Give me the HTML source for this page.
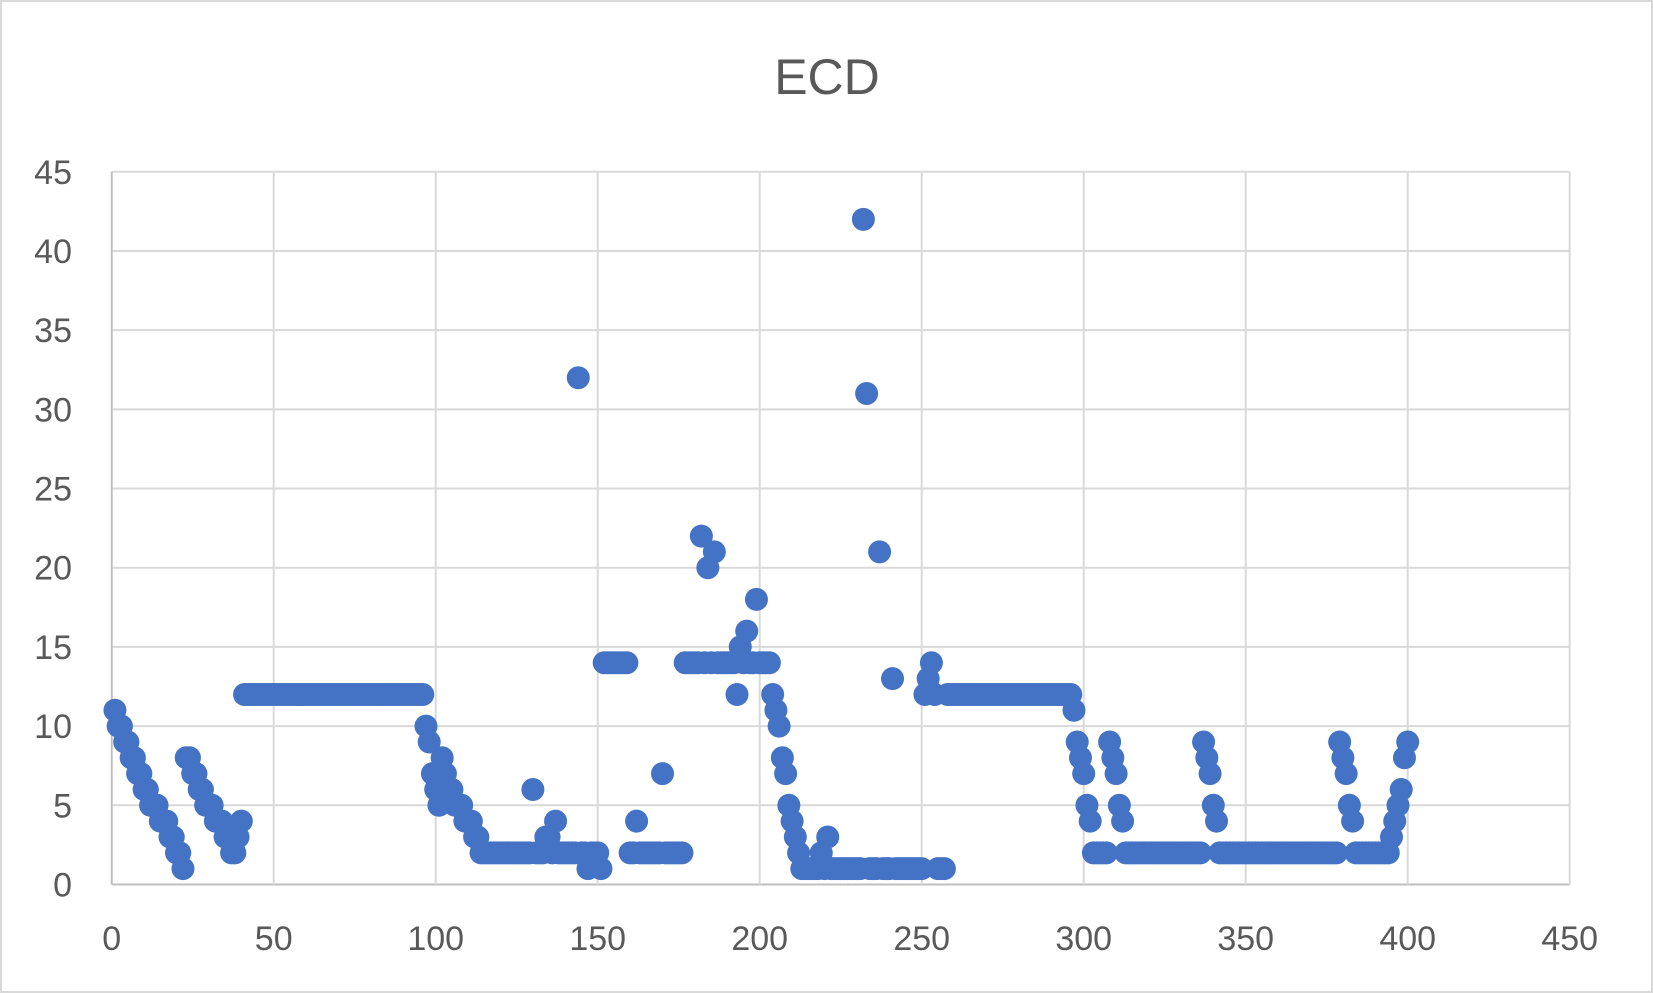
<!DOCTYPE html>
<html><head><meta charset="utf-8">
<style>
html,body{margin:0;padding:0;background:#fff;}
svg{display:block;font-family:"Liberation Sans",sans-serif;}
</style></head>
<body>
<svg id="chart" width="1653" height="993" viewBox="0 0 1653 993" xmlns="http://www.w3.org/2000/svg">
<rect x="1" y="1" width="1651" height="991" fill="#fff" stroke="#d9d9d9" stroke-width="2"/>
<text x="827" y="94" text-anchor="middle" font-size="50" fill="#595959">ECD</text>
<g id="grid"></g>
<g id="ticks"></g>
<g id="points"></g>
</svg>
<script>
const segValues = [11,10,10,9,9,8,8,7,7,6,6,5,5,5,4,4,4,3,3,2,2,1,
 8,8,7,7,6,6,5,5,5,4,4,4,3,3,2,2,3,4,
 12,
 10,9,7,6,5,8,7,6,6,5,5,5,4,4,4,3,3,2,
 2,6,2,3,3,2,4,2,32,2,1,2,1,14,2,4,2,7,2,
 14,22,14,20,14,21,14,12,15,14,16,14,14,18,14,12,11,10,8,7,5,4,3,2,
 1,2,1,3,1,42,31,1,21,1,13,1,12,13,14,12,1,12,
 11,9,8,7,5,4,2,9,8,7,5,4,2,9,8,7,5,4,2,9,8,7,5,4,2,3,4,5,6,8,9];
const segCounts = [1,1,1,1,1,1,1,1,1,1,1,1,1,1,1,1,1,1,1,1,1,1,
 1,1,1,1,1,1,1,1,1,1,1,1,1,1,1,1,1,1,
 56,
 1,1,1,1,1,1,1,1,1,1,1,1,1,1,1,1,1,1,
 15,1,3,1,1,1,1,6,1,2,1,3,1,8,2,1,7,1,6,
 5,1,1,1,1,1,6,1,1,1,1,1,1,1,4,1,1,1,1,1,1,1,1,1,
 6,1,1,1,10,1,1,3,1,3,1,9,1,1,1,1,3,39,
 1,1,1,1,1,1,5,1,1,1,1,1,24,1,1,1,1,1,37,1,1,1,1,1,11,1,1,1,1,1,1];
const yTicks = [0,5,10,15,20,25,30,35,40,45];
const xTicks = [0,50,100,150,200,250,300,350,400,450];

const NS = "http://www.w3.org/2000/svg";
const L = 111.7, R = 1569.7, T = 171.8, B = 884.5;
const xS = v => L + (v / 450) * (R - L);
const yS = v => B - (v / 45) * (B - T);

const grid = document.getElementById('grid');
const ticks = document.getElementById('ticks');
yTicks.forEach(t => {
  const ln = document.createElementNS(NS, 'line');
  
  
  ln.setAttribute('x1', L); ln.setAttribute('x2', R);
  ln.setAttribute('y1', yS(t)); ln.setAttribute('y2', yS(t));
  ln.setAttribute('stroke', t === 0 ? '#bfbfbf' : '#d9d9d9'); ln.setAttribute('stroke-width', '2');
  grid.appendChild(ln);
  const tx = document.createElementNS(NS, 'text');
  
  
  tx.setAttribute('x', 72); tx.setAttribute('y', yS(t) + 12);
  tx.setAttribute('text-anchor', 'end'); tx.setAttribute('font-size', '34'); tx.setAttribute('fill', '#595959');
  tx.textContent = t;
  ticks.appendChild(tx);
});
xTicks.forEach(t => {
  const ln = document.createElementNS(NS, 'line');
  
  
  ln.setAttribute('x1', xS(t)); ln.setAttribute('x2', xS(t));
  ln.setAttribute('y1', T); ln.setAttribute('y2', B);
  ln.setAttribute('stroke', t === 0 ? '#bfbfbf' : '#d9d9d9'); ln.setAttribute('stroke-width', '2');
  grid.appendChild(ln);
  const tx = document.createElementNS(NS, 'text');
  
  
  tx.setAttribute('x', xS(t)); tx.setAttribute('y', 950);
  tx.setAttribute('text-anchor', 'middle'); tx.setAttribute('font-size', '34'); tx.setAttribute('fill', '#595959');
  tx.textContent = t;
  ticks.appendChild(tx);
});

const pts = document.getElementById('points');
let idx = 1;
segValues.forEach((v, i) => {
  for (let k = 0; k < segCounts[i]; k++) {
    const c = document.createElementNS(NS, 'circle');
    
    
    c.setAttribute('cx', xS(idx)); c.setAttribute('cy', yS(v));
    c.setAttribute('r', '11.5'); c.setAttribute('fill', '#4472c4');
    pts.appendChild(c);
    idx++;
  }
});
</script>
</body></html>
